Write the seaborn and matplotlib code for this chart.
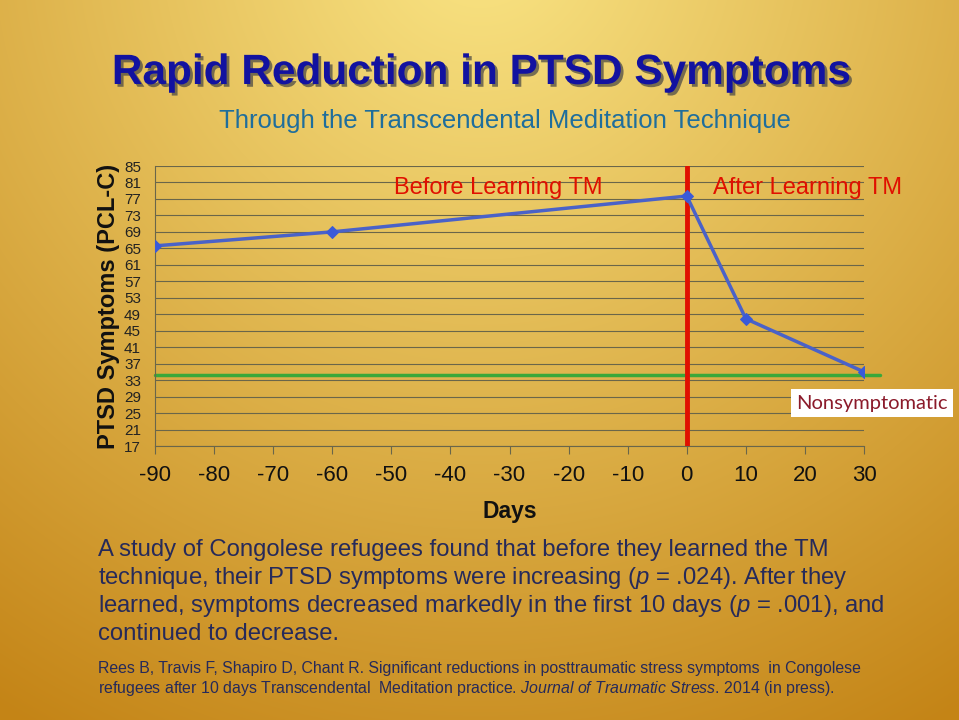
import numpy as np
import pandas as pd
import matplotlib
matplotlib.use("Agg")
import matplotlib.pyplot as plt
import matplotlib.patheffects as pe
import seaborn as sns

# ---- data ----
days = [-90, -60, 0, 10, 30]
pcl = [65.6, 69.0, 77.7, 47.9, 35.0]
threshold = 34.3
threshold_span = [-90, 32.7]
x_ticks = [-90, -80, -70, -60, -50, -40, -30, -20, -10, 0, 10, 20, 30]
y_ticks = [17, 21, 25, 29, 33, 37, 41, 45, 49, 53, 57, 61, 65, 69, 73, 77, 81, 85]
learn_day = 0

sns.set_theme(style="white")
plt.rcParams['font.family'] = ['Liberation Sans', 'DejaVu Sans']
plt.rcParams['mathtext.fontset'] = 'custom'
plt.rcParams['mathtext.it'] = 'Liberation Sans:italic'
plt.rcParams['mathtext.rm'] = 'Liberation Sans'

fig = plt.figure(figsize=(9.59, 7.2), dpi=100)

# background gradient
bg = fig.add_axes([0, 0, 1, 1], zorder=-10)
H, W = 720, 959
yy, xx = np.mgrid[0:H, 0:W]
r = np.sqrt(((xx - 480) / 900.0) ** 2 + ((yy + 60) / 900.0) ** 2)
r = np.clip((r - 0.05) / 0.95, 0, 1)
light = np.array([0.97, 0.88, 0.50])
dark = np.array([0.77, 0.52, 0.09])
img = light[None, None, :] * (1 - r[..., None]) + dark[None, None, :] * r[..., None]
bg.imshow(img, extent=[0, 1, 0, 1], aspect='auto', origin='upper')
bg.axis('off')

ax = fig.add_axes([155/959, 1-446/720, 709/959, 280/720])
ax.patch.set_alpha(0)

df = pd.DataFrame({"Days": days, "PCL": pcl})
for yv in y_ticks:
    ax.axhline(yv, color='#6a664a', lw=0.8, zorder=1)

ax.plot(threshold_span, [threshold, threshold], color='#3aa83a', lw=2.5, clip_on=False, zorder=2)
ax.axvline(learn_day, color='#e01000', lw=3.5, zorder=3)
sns.lineplot(data=df, x="Days", y="PCL", ax=ax, color='#4a62c8', lw=2.5,
             marker='D', markersize=6, markeredgecolor='#3a5ad8', markerfacecolor='#3a5ad8', zorder=4)

ax.set_xlim(-90, 30)
ax.set_ylim(17, 85)
ax.set_xticks(x_ticks)
ax.set_xticklabels([str(v) for v in x_ticks], fontsize=16, color='#111111')
ax.set_yticks(y_ticks)
ax.set_yticklabels([str(v) for v in y_ticks], fontsize=11, color='#222222')
ax.tick_params(axis='x', length=6, width=0.8, color='#6a664a', direction='out', pad=8, bottom=True)
ax.tick_params(axis='y', length=0, pad=10)
for s in ['top', 'right']:
    ax.spines[s].set_visible(False)
ax.spines['left'].set_color('#6a664a')
ax.spines['left'].set_linewidth(0.8)
ax.spines['bottom'].set_color('#6a664a')
ax.spines['bottom'].set_linewidth(0.8)
ax.set_xlabel("Days", fontsize=16.5, fontweight='bold', color='#111111', labelpad=10)
ax.set_ylabel("PTSD Symptoms (PCL-C)", fontsize=17, fontweight='bold', color='#111111', labelpad=3)

fig.text(498/959, 1-188/720, "Before Learning TM", color='#e01000', fontsize=17, ha='center', va='center')
fig.text(808/959, 1-188/720, "After Learning TM", color='#e01000', fontsize=17, ha='center', va='center')

fig.text(872/959, 1-403/720, "Nonsymptomatic", color='#8b1a2a', fontsize=14.5, ha='center', va='center',
         family=['Lato', 'DejaVu Sans'],
         bbox=dict(boxstyle='square,pad=0.25', fc='white', ec='none'))

fig.text(482/959, 1-73/720, "Rapid Reduction in PTSD Symptoms", color='#1212a0', fontsize=30.5,
         fontweight='bold', ha='center', va='center',
         path_effects=[pe.withSimplePatchShadow(offset=(2, -2), shadow_rgbFace='#444444', alpha=0.7)])
fig.text(505/959, 1-121/720, "Through the Transcendental Meditation Technique", color='#1f6e9c',
         fontsize=18.5, ha='center', va='center')

body = ["A study of Congolese refugees found that before they learned the TM",
        "technique, their PTSD symptoms were increasing ($\\it{p}$ = .024). After they",
        "learned, symptoms decreased markedly in the first 10 days ($\\it{p}$ = .001), and",
        "continued to decrease."]
for i, line in enumerate(body):
    fig.text(98/959, 1-(550 + 28*i)/720, line, color='#262a5a', fontsize=17.2, ha='left', va='center')

fig.text(98/959, 1-669/720, "Rees B, Travis F, Shapiro D, Chant R. Significant reductions in posttraumatic stress symptoms  in Congolese",
         color='#262a5a', fontsize=11.4, ha='left', va='center')
fig.text(98/959, 1-688/720, "refugees after 10 days Transcendental  Meditation practice. $\\it{Journal\\ of\\ Traumatic\\ Stress}$. 2014 (in press).",
         color='#262a5a', fontsize=11.4, ha='left', va='center')

fig.savefig("out.png", dpi=100)
